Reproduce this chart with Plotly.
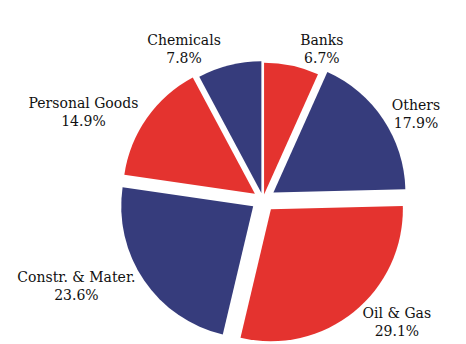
import plotly.graph_objects as go

labels = ["Banks", "Others", "Oil & Gas", "Constr. & Mater.", "Personal Goods", "Chemicals"]
values = [6.7, 17.9, 29.1, 23.6, 14.9, 7.8]
colors = ["#e4332f", "#363c7c", "#e4332f", "#363c7c", "#e4332f", "#363c7c"]
pulls = [0.038, 0.095, 0.095, 0.09, 0.075, 0.05]

fig = go.Figure(go.Pie(
    labels=labels,
    values=values,
    sort=False,
    direction="clockwise",
    rotation=0,
    pull=pulls,
    marker=dict(colors=colors, line=dict(width=0)),
    textposition="outside",
    texttemplate="%{label}<br>%{value:.1f}%",
    textfont=dict(family="DejaVu Serif", size=14, color="#111111"),
    showlegend=False,
    hoverinfo="skip",
))

fig.update_layout(
    width=466, height=344,
    margin=dict(l=118, r=58, t=55, b=0, autoexpand=False),
    paper_bgcolor="white",
    plot_bgcolor="white",
)

fig.write_html("out.html")
